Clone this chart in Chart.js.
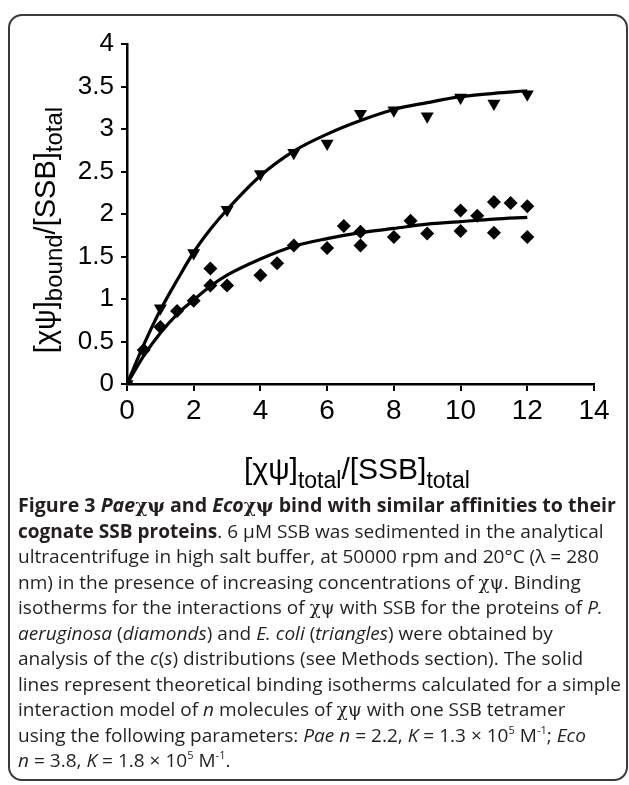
<!DOCTYPE html>
<html><head><meta charset="utf-8">
<script src="https://cdn.jsdelivr.net/npm/chart.js@4.4.1/dist/chart.umd.min.js"></script>
<style>
html,body{margin:0;padding:0;background:#fff;width:629px;height:785px;overflow:hidden;position:relative;}
#frame{position:absolute;left:8px;top:14px;width:620px;height:767px;border:2px solid #3a3a3a;border-radius:14px;box-sizing:border-box;}
#wrap{position:absolute;left:0;top:0;width:629px;height:500px;}
#cap{position:absolute;left:18px;top:493px;font-family:"Open Sans",sans-serif;font-size:19px;line-height:25.5px;color:#231f20;white-space:nowrap;}
#cap > div{height:25.5px;transform-origin:0 0;}
#cap .g{font-family:"DejaVu Serif",serif;font-size:18px;}
#cap sup{font-size:11px;line-height:0;vertical-align:0;position:relative;top:-8px;}
</style></head><body>
<div id="frame"></div>
<div id="wrap"><canvas id="c" width="629" height="500"></canvas></div>
<div id="cap">
<div class="ln bold"><b>Figure 3 <i>Pae</i><span class="g">χψ</span> and <i>Eco</i><span class="g">χψ</span> bind with similar affinities to their</b></div>
<div class="ln"><b>cognate SSB proteins</b>. 6 μM SSB was sedimented in the analytical</div>
<div class="ln">ultracentrifuge in high salt buffer, at 50000 rpm and 20°C (λ = 280</div>
<div class="ln">nm) in the presence of increasing concentrations of <span class="g">χψ</span>. Binding</div>
<div class="ln">isotherms for the interactions of <span class="g">χψ</span> with SSB for the proteins of <i>P.</i></div>
<div class="ln"><i>aeruginosa</i> (<i>diamonds</i>) and <i>E. coli</i> (<i>triangles</i>) were obtained by</div>
<div class="ln">analysis of the <i>c</i>(<i>s</i>) distributions (see Methods section). The solid</div>
<div class="ln" id="ref">lines represent theoretical binding isotherms calculated for a simple</div>
<div class="ln">interaction model of <i>n</i> molecules of <span class="g">χψ</span> with one SSB tetramer</div>
<div class="ln">using the following parameters: <i>Pae n</i> = 2.2, <i>K</i> = 1.3 × 10<sup>5</sup> M<sup>-1</sup>; <i>Eco</i></div>
<div class="ln"><i>n</i> = 3.8, <i>K</i> = 1.8 × 10<sup>5</sup> M<sup>-1</sup>.</div>
</div>
<script>
// ---- data ----
const ecoX = [0, 1, 2, 3, 4, 5, 6, 7, 8, 9, 10, 11, 12];
const ecoY = [0, 0.89, 1.54, 2.05, 2.47, 2.72, 2.83, 3.18, 3.22, 3.15, 3.37, 3.30, 3.41];
const paeX = [0, 0.5, 1, 1.5, 2, 2.5, 2.5, 3, 4, 4.5, 5, 6, 6.5, 7, 7, 8, 8.5, 9, 10, 10, 10.5, 11, 11, 11.5, 12, 12];
const paeY = [0, 0.40, 0.67, 0.86, 0.98, 1.36, 1.16, 1.16, 1.28, 1.42, 1.63, 1.60, 1.86, 1.79, 1.63, 1.73, 1.92, 1.77, 2.04, 1.80, 1.98, 2.14, 1.78, 2.13, 2.09, 1.73];
const fitX = [0, 0.5, 1, 1.5, 2, 2.5, 3, 4, 5, 6, 7, 8, 9, 10, 11, 12];
const ecoFit = [0, 0.46, 0.87, 1.22, 1.55, 1.82, 2.05, 2.45, 2.74, 2.94, 3.10, 3.23, 3.31, 3.38, 3.42, 3.45];
const paeFit = [0, 0.33, 0.60, 0.82, 0.99, 1.15, 1.28, 1.47, 1.62, 1.71, 1.78, 1.83, 1.88, 1.91, 1.94, 1.96];
const xTicks = [0, 2, 4, 6, 8, 10, 12, 14];
const yTicks = [0, 0.5, 1, 1.5, 2, 2.5, 3, 3.5, 4];
const xTitle = [["[χψ]", "main"], ["total", "sub"], ["/[SSB]", "main"], ["total", "sub"]];
const yTitle = [["[χψ]", "main"], ["bound", "sub"], ["/[SSB]", "main"], ["total", "sub"]];

const pts = (xs, ys) => xs.map((x, i) => ({x, y: ys[i]}));

function drawRich(ctx, parts, cx, base, mainSize, subSize, subDy) {
  const fam = '"Liberation Sans", Arial, sans-serif';
  let total = 0;
  const ws = parts.map(([t, k]) => {
    ctx.font = (k === 'main' ? mainSize : subSize) + 'px ' + fam;
    const w = ctx.measureText(t).width; total += w; return w;
  });
  let x = cx - total / 2;
  ctx.textAlign = 'left'; ctx.textBaseline = 'alphabetic'; ctx.fillStyle = '#000';
  parts.forEach(([t, k], i) => {
    ctx.font = (k === 'main' ? mainSize : subSize) + 'px ' + fam;
    ctx.fillText(t, x, base + (k === 'main' ? 0 : subDy));
    x += ws[i];
  });
}

const titles = {
  id: 'titles',
  afterDraw(chart) {
    const ctx = chart.ctx;
    ctx.save();
    drawRich(ctx, xTitle, 357, 479, 30, 23, 9);
    ctx.restore();
    ctx.save();
    ctx.translate(55, 230);
    ctx.rotate(-Math.PI / 2);
    drawRich(ctx, yTitle, 0, 0, 29, 24, 7);
    ctx.restore();
  }
};

new Chart(document.getElementById('c'), {
  type: 'scatter',
  data: {
    datasets: [
      {data: pts(ecoX, ecoY), pointStyle: 'triangle', rotation: 180, pointRadius: 7.5,
       backgroundColor: '#000', borderColor: '#000', borderWidth: 0, showLine: false, order: 0},
      {data: pts(paeX, paeY), pointStyle: 'rectRot', pointRadius: 7,
       backgroundColor: '#000', borderColor: '#000', borderWidth: 0, showLine: false, order: 0},
      {data: pts(fitX, ecoFit), showLine: true, pointRadius: 0, borderColor: '#000', borderWidth: 3.2,
       cubicInterpolationMode: 'monotone', order: 1},
      {data: pts(fitX, paeFit), showLine: true, pointRadius: 0, borderColor: '#000', borderWidth: 3.2,
       cubicInterpolationMode: 'monotone', order: 1}
    ]
  },
  options: {
    responsive: false,
    animation: false,
    layout: {padding: {top: 44, right: 35, left: 0, bottom: 0}},
    plugins: {legend: {display: false}, tooltip: {enabled: false}},
    scales: {
      x: {
        type: 'linear', min: 0, max: 14,
        afterBuildTicks: s => { s.ticks = xTicks.map(v => ({value: v})); },
        afterFit: s => { s.height = 116; },
        ticks: {color: '#000', font: {family: '"Liberation Sans", Arial, sans-serif', size: 28}, padding: 3, maxRotation: 0},
        grid: {drawOnChartArea: false, drawTicks: true, tickLength: 7, color: '#000', lineWidth: 2},
        border: {display: true, color: '#000', width: 2.5}
      },
      y: {
        type: 'linear', min: 0, max: 4,
        afterBuildTicks: s => { s.ticks = yTicks.map(v => ({value: v})); },
        afterFit: s => { s.width = 127; },
        ticks: {color: '#000', font: {family: '"Liberation Sans", Arial, sans-serif', size: 26}, padding: 7,
                callback: v => String(v)},
        grid: {drawOnChartArea: false, drawTicks: true, tickLength: 6, color: '#000', lineWidth: 2},
        border: {display: true, color: '#000', width: 2.5}
      }
    }
  },
  plugins: [titles]
});

// fit caption lines horizontally to the original text width
function natW(el) { const r = document.createRange(); r.selectNodeContents(el); return r.getBoundingClientRect().width; }
const lines = document.querySelectorAll('#cap .ln');
const kReg = 603 / natW(document.getElementById('ref'));
const kBold = 598 / natW(lines[0]);
lines.forEach((el, i) => { el.style.transform = 'scaleX(' + (i === 0 ? kBold : kReg) + ')'; });
</script>
</body></html>
